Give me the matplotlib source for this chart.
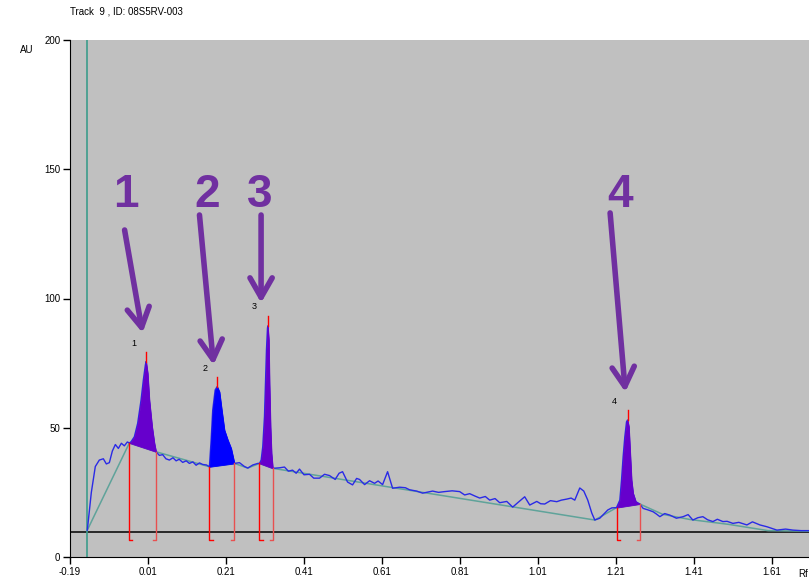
import numpy as np
import matplotlib.pyplot as plt

plt.rcParams["font.family"] = ["Liberation Sans", "DejaVu Sans"]

# densitometer trace (Rf, AU)
trace_rf = [-0.1456, -0.1353, -0.1251, -0.1148, -0.1045, -0.0968, -0.0891, -0.0814,
            -0.0737, -0.0660, -0.0583, -0.0506, -0.0429, -0.0378,
            # peak 1
            -0.0334, -0.0250, -0.0165, -0.0078, -0.0019, 0.0033, 0.0051, 0.0092,
            0.0135, 0.0205, 0.0264, 0.0307,
            0.0392, 0.0477, 0.0560, 0.0649, 0.0740, 0.0821, 0.0900, 0.0990, 0.1080,
            0.1162, 0.1250, 0.1334, 0.1420, 0.1503, 0.1600, 0.1675,
            # peak 2
            0.1719, 0.1760, 0.1822, 0.1873, 0.1932, 0.1991, 0.2060, 0.2145, 0.2232,
            0.2317, 0.2445, 0.2574, 0.2658, 0.2787, 0.2915, 0.2959,
            # peak 3
            0.3002, 0.3043, 0.3087, 0.3113, 0.3138, 0.3164, 0.3172, 0.3197, 0.3215,
            0.3241, 0.3267, 0.3300,
            0.3472, 0.3600, 0.3700, 0.3806, 0.3900, 0.3985, 0.4100, 0.4242, 0.4350,
            0.4499, 0.4627, 0.4755, 0.4900, 0.5000, 0.5089, 0.5217, 0.5346, 0.5450,
            0.5525, 0.5654, 0.5782, 0.5910, 0.6000, 0.6116, 0.6244, 0.6372, 0.6552,
            0.6700, 0.6809, 0.6988, 0.7142, 0.7399, 0.7550, 0.7707, 0.7900, 0.8092,
            0.8220, 0.8349, 0.8480, 0.8606, 0.8750, 0.8862, 0.9000, 0.9119, 0.9300,
            0.9452, 0.9581, 0.9760, 0.9889, 1.0069, 1.0170, 1.0274, 1.0420, 1.0582,
            1.0700, 1.0838, 1.0950, 1.1044, 1.1172, 1.1275, 1.1377, 1.1480, 1.1557,
            1.1685, 1.1814, 1.1891, 1.1994,
            # peak 4
            1.2114, 1.2199, 1.2243, 1.2284, 1.2327, 1.2371, 1.2397, 1.2430, 1.2456,
            1.2499, 1.2540, 1.2609, 1.2712,
            1.2797, 1.2925, 1.3053, 1.3140, 1.3226, 1.3350, 1.3482, 1.3650, 1.3823,
            1.3950, 1.4072, 1.4200, 1.4329, 1.4450, 1.4586, 1.4700, 1.4842, 1.4950,
            1.5099, 1.5250, 1.5458, 1.5600, 1.5792, 1.5972, 1.6228, 1.6450, 1.6639,
            1.6850, 1.7050]
trace_au = [10.4, 25.0, 35.0, 37.5, 38.0, 36.0, 36.5, 41.0,
            43.5, 42.0, 44.0, 43.0, 44.5, 44.1,
            44.6, 46.5, 51.7, 60.7, 68.5, 74.3, 75.6, 71.0,
            60.7, 50.4, 44.0, 40.7,
            39.3, 39.6, 38.0, 37.5, 38.4, 37.2, 37.8, 36.6, 37.2,
            36.2, 36.8, 35.5, 36.4, 35.8, 35.6, 34.9,
            45.3, 56.9, 64.6, 65.9, 63.9, 56.9, 49.1, 45.3, 42.0,
            36.2, 36.5, 35.0, 34.4, 35.6, 36.2, 36.2,
            37.5, 42.7, 54.3, 67.2, 80.1, 88.5, 89.4, 84.0, 67.2,
            50.4, 40.1, 34.3,
            34.5, 34.8, 33.2, 33.6, 32.4, 34.0, 31.8, 32.0, 30.5,
            30.5, 32.0, 31.5, 30.0, 32.4, 33.0, 29.0, 27.9, 30.4,
            30.0, 28.0, 29.5, 28.5, 29.4, 28.0, 33.0, 26.6, 27.0,
            26.8, 26.0, 25.5, 24.7, 25.5, 25.0, 25.3, 25.6, 25.3,
            24.0, 24.5, 23.6, 22.8, 23.4, 22.0, 22.6, 21.0, 21.5,
            19.3, 21.0, 23.3, 20.1, 21.5, 20.6, 20.5, 21.8, 21.4,
            22.0, 22.4, 22.8, 22.0, 26.7, 25.5, 22.0, 17.0, 14.3,
            15.0, 17.0, 18.2, 19.0,
            19.1, 22.0, 29.8, 38.8, 46.5, 52.3, 53.0, 50.4, 42.7,
            29.8, 24.6, 21.4, 20.5,
            18.8, 18.2, 17.5, 16.6, 15.6, 16.8, 16.2, 15.0, 15.6,
            16.4, 14.3, 15.2, 15.6, 14.4, 13.7, 14.6, 13.7, 13.8,
            13.0, 13.4, 12.4, 13.6, 12.4, 11.7, 10.4, 10.8, 10.4,
            10.2, 10.2]

# automatic baseline drawn under the trace
base_rf = [-0.1456, -0.0378, 0.0307, 0.1675, 0.2317, 0.2658, 0.2959, 0.3300,
           1.1557, 1.2114, 1.2712, 1.3300, 1.4000, 1.5000, 1.6000, 1.7050]
base_au = [10.4, 44.1, 40.7, 34.9, 36.2, 34.4, 36.2, 34.3,
           14.3, 19.1, 20.5, 16.5, 14.5, 12.6, 10.2, 10.0]

# integrated peaks
peak_ids = ["1", "2", "3", "4"]
peak_start = [-0.0378, 0.1675, 0.2959, 1.2114]
peak_end = [0.0307, 0.2317, 0.3300, 1.2712]
peak_max_rf = [0.0051, 0.1873, 0.3172, 1.2397]
peak_max_au = [75.6, 65.9, 89.4, 53.0]
peak_label_rf = [-0.027, 0.156, 0.283, 1.207]
peak_label_au = [82.7, 73.0, 96.8, 60.1]
peak_colors = ["#6600cc", "#0000ff", "#6600cc", "#6600cc"]

front_rf = -0.1456
front_au = 9.7

rf_ticks = [-0.19, 0.01, 0.21, 0.41, 0.61, 0.81, 1.01, 1.21, 1.41, 1.61]
au_ticks = [0, 50, 100, 150, 200]

# purple call-outs added on top of the scan
callout_xy = [(-0.048, 140), (0.161, 140), (0.297, 140), (1.221, 140)]
arrow_from = [(-0.050, 126.5), (0.142, 132.3), (0.300, 132.3), (1.195, 133.1)]
arrow_to = [(-0.004, 86.7), (0.178, 74.3), (0.300, 98.3), (1.234, 63.8)]

fig = plt.figure(figsize=(8.09, 5.79), dpi=100)
ax = fig.add_axes([70 / 809, 22 / 579, 739 / 809, 517 / 579])
ax.set_facecolor("#c0c0c0")
ax.set_xlim(-0.19, 1.705)
ax.set_ylim(0, 200)

x = np.array(trace_rf)
y = np.array(trace_au)
base = np.interp(x, base_rf, base_au)

ax.axhline(front_au, color="black", lw=1.1, zorder=2)
ax.axvline(front_rf, color="#3d9c8c", lw=1.2, zorder=2)
ax.plot(base_rf, base_au, color="#5fa39a", lw=1.1, zorder=3)
ax.plot(x, y, color="#2a2ae6", lw=1, zorder=4)

for i, pid in enumerate(peak_ids):
    m = (x >= peak_start[i] - 1e-9) & (x <= peak_end[i] + 1e-9)
    ax.fill_between(x[m], base[m], y[m], color=peak_colors[i], lw=0.6,
                    edgecolor=peak_colors[i], zorder=5)
    # integration brackets
    b0 = np.interp(peak_start[i], base_rf, base_au)
    b1 = np.interp(peak_end[i], base_rf, base_au)
    ax.plot([peak_start[i], peak_start[i], peak_start[i] + 0.008],
            [b0, 6.6, 6.6], color="#ff0000", lw=1, zorder=6)
    ax.plot([peak_end[i], peak_end[i], peak_end[i] - 0.008],
            [b1, 6.6, 6.6], color="#e85050", lw=1, zorder=6)
    # max marker
    ax.plot([peak_max_rf[i]] * 2, [peak_max_au[i], peak_max_au[i] + 3.8],
            color="#ff0000", lw=1, zorder=6)
    ax.text(peak_label_rf[i], peak_label_au[i], pid, fontsize=6.5,
            ha="center", va="center", zorder=6)

for pid, (cx, cy), a0, a1 in zip(peak_ids, callout_xy, arrow_from, arrow_to):
    ax.text(cx, cy, pid, fontsize=33, fontweight="bold", color="#7030a0",
            ha="center", va="center", zorder=7)
    ax.annotate("", xy=a1, xytext=a0, zorder=7,
                arrowprops=dict(arrowstyle="->,head_length=0.7,head_width=0.4",
                                mutation_scale=20, color="#7030a0", lw=4,
                                shrinkA=0, shrinkB=0))

for side in ["top", "right"]:
    ax.spines[side].set_visible(False)
ax.spines["left"].set_color("black")
ax.spines["bottom"].set_color("black")
ax.set_xticks(rf_ticks)
ax.set_xticklabels([f"{v:.2f}" for v in rf_ticks])
ax.set_yticks(au_ticks)
ax.tick_params(labelsize=7, length=5, width=1, direction="out", pad=2)

fig.text(70 / 809, 1 - 12 / 579, "Track  9 , ID: 08S5RV-003", fontsize=7,
         va="center", ha="left")
fig.text(20 / 809, 1 - 50 / 579, "AU", fontsize=7, va="center", ha="left")
fig.text(808 / 809, 1 - 574 / 579, "Rf", fontsize=7, va="center", ha="right")

fig.savefig("out.png", dpi=100, facecolor="white")
